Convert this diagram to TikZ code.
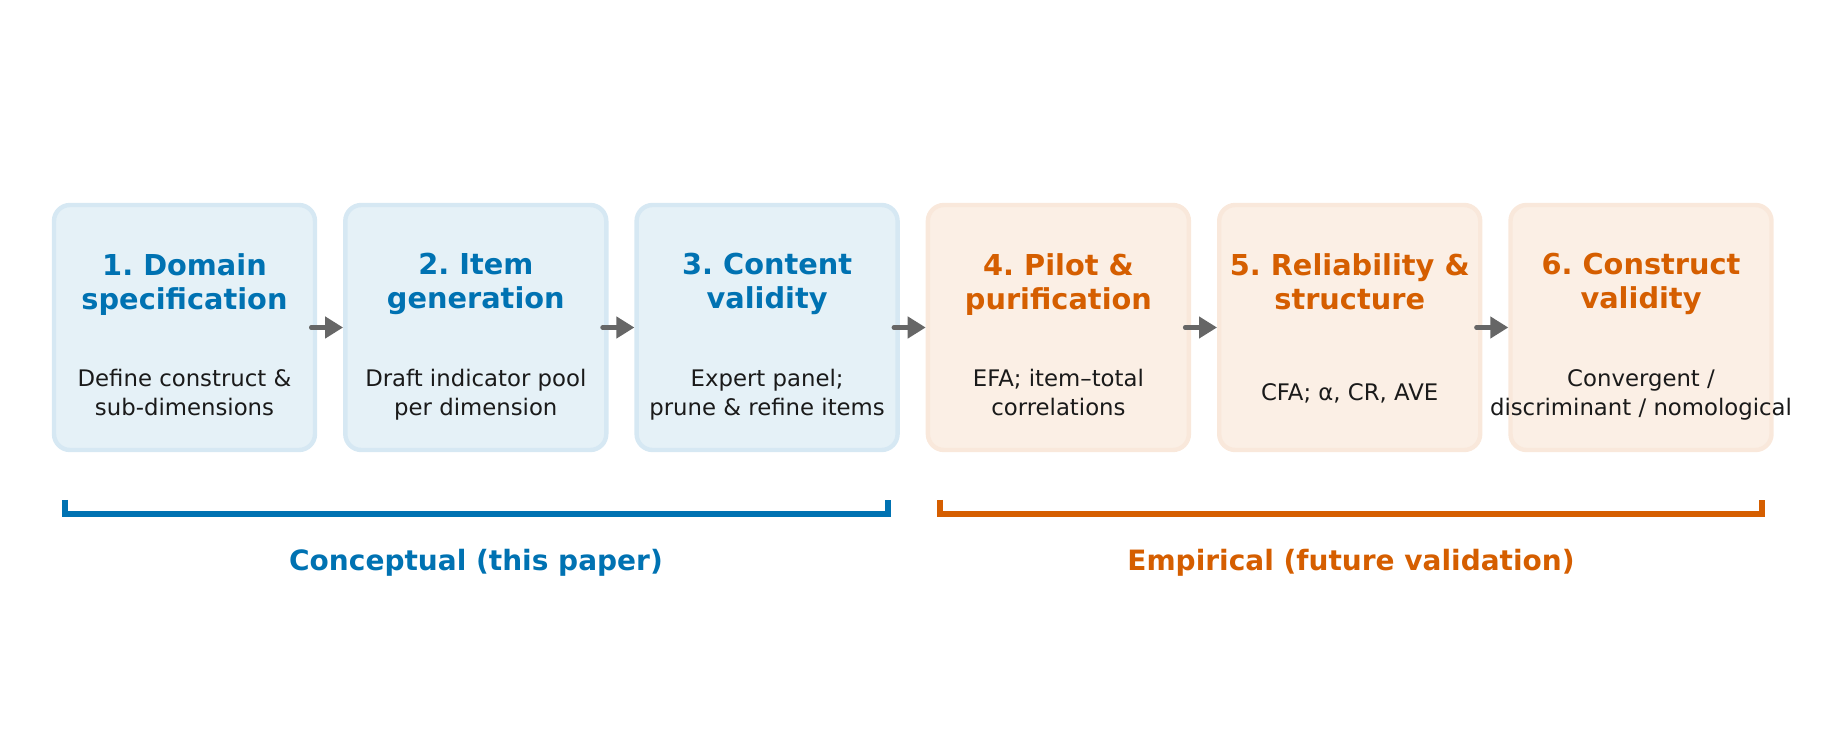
\documentclass[tikz,border=0pt]{standalone}
\usepackage{fontspec}
\setmainfont{DejaVu Sans}
\frenchspacing
\usetikzlibrary{arrows.meta}
\definecolor{cblue}{HTML}{0072B2}
\definecolor{corange}{HTML}{D55E00}
\definecolor{txt}{HTML}{1A1A1A}
\definecolor{arrowgray}{HTML}{666666}
\begin{document}
\begin{tikzpicture}[x=0.5pt,y=-0.5pt,
  stagebox/.style={rounded corners=8pt, line width=2.2pt, minimum width=130.5pt, minimum height=122.5pt, inner sep=0pt},
  bluebox/.style={stagebox, fill=cblue!10, draw=cblue!16},
  orangebox/.style={stagebox, fill=corange!10, draw=corange!14},
  titletext/.style={font=\fontsize{14.4}{17}\selectfont\bfseries, align=center, text depth=3.4pt},
  bodytext/.style={font=\fontsize{11.4}{14.6}\selectfont, align=center, text=txt, text depth=2.7pt},
  flow/.style={draw=arrowgray, line width=2.2pt, line cap=round, -{Triangle[length=9pt,width=10.5pt]}},
  bracket/.style={line width=2.6pt},
  phaselabel/.style={font=\fontsize{14}{17}\selectfont\bfseries}
]
\useasboundingbox (0,0) rectangle (1827,753);
% boxes
\foreach \i/\st in {1/bluebox,2/bluebox,3/bluebox,4/orangebox,5/orangebox,6/orangebox}{
  \node[\st] (b\i) at ({184.5+291.3*(\i-1)},327.5) {};
}
% titles
\node[titletext, text=cblue] (t1) at (b1.center |- 0,284.5) {1. Domain\\specification};
\node[titletext, text=cblue] (t2) at (b2.center |- 0,284.5) {2. Item\\generation};
\node[titletext, text=cblue] (t3) at (b3.center |- 0,284.5) {3. Content\\validity};
\node[titletext, text=corange] (t4) at (b4.center |- 0,284.5) {4. Pilot \&\\purification};
\node[titletext, text=corange] (t5) at (b5.center |- 0,284.5) {5. Reliability \&\\structure};
\node[titletext, text=corange] (t6) at (b6.center |- 0,284.5) {6. Construct\\validity};
% bodies
\node[bodytext] (d1) at (b1.center |- 0,395) {Define construct \&\\sub-dimensions};
\node[bodytext] (d2) at (b2.center |- 0,395) {Draft indicator pool\\per dimension};
\node[bodytext] (d3) at (b3.center |- 0,395) {Expert panel;\\prune \& refine items};
\node[bodytext] (d4) at (b4.center |- 0,395) {EFA; item–total\\correlations};
\node[bodytext] (d5) at (b5.center |- 0,395) {CFA; α, CR, AVE};
\node[bodytext] (d6) at (b6.center |- 0,395) {Convergent /\\discriminant / nomological};
% arrows
\foreach \a/\b in {1/2,2/3,3/4,4/5,5/6}{
  \draw[flow] ([xshift=-3pt]b\a.east) -- ([xshift=0pt]b\b.west);
}
% brackets
\coordinate (bl1) at (65,500);
\coordinate (bl2) at (65,514);
\coordinate (bl3) at (888,514);
\coordinate (bl4) at (888,500);
\draw[bracket, draw=cblue] (bl1) -- (bl2) -- (bl3) -- (bl4);
\coordinate (br1) at (940,500);
\coordinate (br2) at (940,514);
\coordinate (br3) at (1762,514);
\coordinate (br4) at (1762,500);
\draw[bracket, draw=corange] (br1) -- (br2) -- (br3) -- (br4);
\node[phaselabel, text=cblue] (l1) at (476,563) {Conceptual (this paper)};
\node[phaselabel, text=corange] (l2) at (1351,563) {Empirical (future validation)};
\end{tikzpicture}
\end{document}
